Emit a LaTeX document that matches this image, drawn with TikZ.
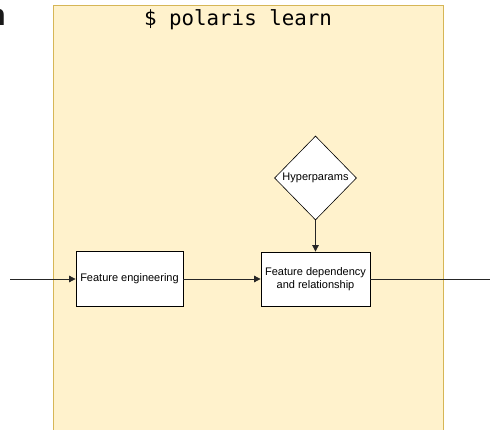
\documentclass[tikz,border=0pt]{standalone}
\usepackage{fontspec}
\setmainfont{Liberation Sans}
\setmonofont{DejaVu Sans Mono}
\usetikzlibrary{shapes.geometric,arrows.meta}
\definecolor{panelfill}{HTML}{FFF2CC}
\definecolor{panelline}{HTML}{D6B656}
\tikzset{
  procbox/.style={draw=black, fill=white, line width=0.8pt, inner sep=2pt, align=center, font=\fontsize{11}{13}\selectfont},
  decision/.style={draw=black, fill=white, diamond, line width=0.6pt, inner sep=0pt, minimum width=82, minimum height=84, font=\fontsize{11}{13}\selectfont},
  flow/.style={draw=black!85, line width=0.8pt},
  arr/.style={flow, -{Triangle[length=6.5pt,width=6.5pt]}}
}
\begin{document}
\begin{tikzpicture}[x=1pt,y=-1pt]
\useasboundingbox (0,0) rectangle (490,430);
\node[font=\fontsize{30}{30}\selectfont\bfseries, text=black!90, anchor=base east, inner sep=0pt] (cut) at (6,26) {n};
\fill[panelfill, draw=panelline, line width=0.8pt] (53,5) rectangle (443,440);
\node[font=\ttfamily\fontsize{20.8}{22}\selectfont] (title) at (238,20) {\$ polaris learn};
\node[procbox, minimum width=107, minimum height=55] (fe) at (129.5,278.5) {Feature engineering};
\node[procbox, minimum width=109, minimum height=54] (fd) at (315.5,279) {Feature dependency\\and relationship};
\node[decision] (hp) at (315.5,178) {Hyperparams};
\coordinate (in) at (10,279);
\coordinate (out) at (490,279);
\draw[arr] (in) -- (fe.west |- in);
\draw[arr] (fe.east |- fd) -- (fd.west);
\draw[arr] (hp.south) -- (fd.north);
\draw[flow] (fd.east |- out) -- (out);
\end{tikzpicture}
\end{document}
